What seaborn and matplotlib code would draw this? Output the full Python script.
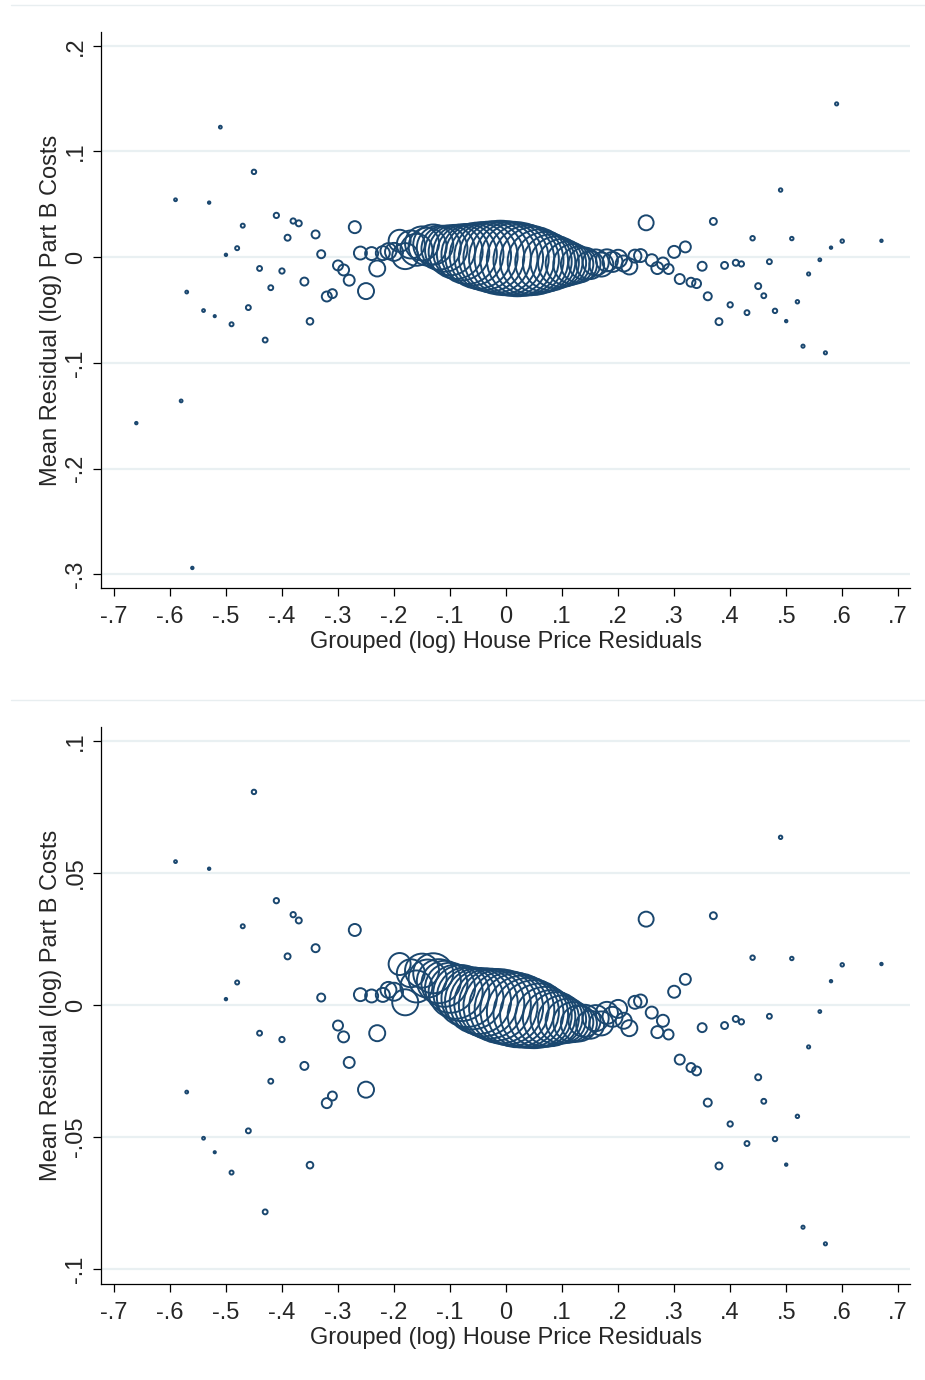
import numpy as np
import pandas as pd
import matplotlib
matplotlib.use("Agg")
import matplotlib.pyplot as plt
import seaborn as sns
from matplotlib.lines import Line2D

# grouped house price residual bins (x), mean Part B residual (y), obs per bin (n)
x_left = [-0.66, -0.59, -0.58, -0.57, -0.56, -0.54, -0.53, -0.52, -0.51, -0.50,
          -0.49, -0.48, -0.47, -0.46, -0.45, -0.44, -0.43, -0.42, -0.41, -0.40,
          -0.39, -0.38, -0.37, -0.36, -0.35, -0.34, -0.33, -0.32, -0.31, -0.30,
          -0.29, -0.28, -0.27, -0.26, -0.25, -0.24, -0.23]
y_left = [-0.157, 0.0543, -0.136, -0.033, -0.294, -0.0505, 0.0516, -0.0558, 0.123, 0.0022,
          -0.0635, 0.0085, 0.0298, -0.0477, 0.0807, -0.0107, -0.0784, -0.0289, 0.0395, -0.0131,
          0.0184, 0.0342, 0.032, -0.0231, -0.0607, 0.0215, 0.0028, -0.0372, -0.0345, -0.0078,
          -0.0121, -0.0218, 0.0284, 0.0039, -0.0321, 0.0034, -0.0107]
n_left = [1.5, 2, 2, 2, 1.5, 2, 1.5, 1.2, 2, 1.5,
          4, 4, 4, 6, 5, 6, 6, 6, 7, 7,
          9, 7, 9, 16, 11, 16, 16, 25, 20, 25,
          30, 30, 36, 42, 64, 42, 64]

x_mid = [-0.22, -0.21, -0.20, -0.19, -0.18, -0.17, -0.16, -0.15, -0.14, -0.13,
         -0.12, -0.11, -0.10, -0.09, -0.08, -0.07, -0.06, -0.05, -0.04, -0.03,
         -0.02, -0.01, 0.00, 0.01, 0.02, 0.03, 0.04, 0.05, 0.06, 0.07,
         0.08, 0.09, 0.10, 0.11, 0.12, 0.13, 0.14, 0.15, 0.16, 0.17,
         0.18, 0.19, 0.20, 0.21]
y_mid = [0.0038, 0.0057, 0.0050, 0.0155, 0.0010, 0.0120, 0.0070, 0.0130, 0.0100, 0.0120,
         0.0090, 0.0080, 0.0065, 0.0050, 0.0045, 0.0030, 0.0025, 0.0015, 0.0010, 0.0005,
         0.0000, -0.0005, -0.0010, -0.0015, -0.0020, -0.0025, -0.0030, -0.0035, -0.0040, -0.0045,
         -0.0050, -0.0050, -0.0055, -0.0060, -0.0065, -0.0070, -0.0060, -0.0075, -0.0050, -0.0070,
         -0.0030, -0.0045, -0.0015, -0.0060]
n_mid = [49, 64, 81, 121, 169, 196, 256, 289, 361, 400,
         484, 529, 625, 729, 784, 900, 961, 1089, 1156, 1225,
         1296, 1369, 1369, 1369, 1369, 1296, 1225, 1156, 1024, 900,
         784, 676, 576, 484, 400, 324, 256, 196, 169, 144,
         121, 100, 81, 64]

x_right = [0.22, 0.23, 0.24, 0.25, 0.26, 0.27, 0.28, 0.29, 0.30, 0.31,
           0.32, 0.33, 0.34, 0.35, 0.36, 0.37, 0.38, 0.39, 0.40, 0.41,
           0.42, 0.43, 0.44, 0.45, 0.46, 0.47, 0.48, 0.49, 0.50, 0.51,
           0.52, 0.53, 0.54, 0.56, 0.57, 0.58, 0.59, 0.60, 0.67]
y_right = [-0.0088, 0.0010, 0.0015, 0.0325, -0.0029, -0.0103, -0.0060, -0.0112, 0.0050, -0.0207,
           0.0097, -0.0237, -0.0250, -0.0086, -0.0370, 0.0338, -0.0610, -0.0078, -0.0451, -0.0053,
           -0.0064, -0.0525, 0.0179, -0.0274, -0.0365, -0.0043, -0.0508, 0.0635, -0.0605, 0.0176,
           -0.0422, -0.0842, -0.0159, -0.0025, -0.0905, 0.0090, 0.145, 0.0152, 0.0155]
n_right = [64, 42, 42, 56, 36, 36, 36, 25, 36, 25,
           30, 20, 20, 20, 16, 12, 12, 12, 7, 9,
           7, 6, 5, 9, 6, 6, 5, 3, 1.5, 3,
           3, 2.5, 2.5, 2, 2.5, 1.5, 2.5, 3, 1.5]

navy = "#1a476f"
grid_col = "#e9f0f2"

df = pd.DataFrame({
    "x": x_left + x_mid + x_right,
    "y": y_left + y_mid + y_right,
    "n": n_left + n_mid + n_right,
})

sns.set_style("white")
plt.rcParams["font.family"] = ["Liberation Sans", "DejaVu Sans"]
fs = 17

fig = plt.figure(figsize=(9.25, 13.8), dpi=100)
ax1 = fig.add_axes([0.1092, 0.5739, 0.8746, 0.4029])
ax2 = fig.add_axes([0.1092, 0.0696, 0.8746, 0.4036])

nmax = df["n"].max()
smax = nmax * (2 * 0.72) ** 2


def draw(ax, data, ylim, yticks, ylabels):
    sns.scatterplot(data=data, x="x", y="y", size="n", sizes=(0, smax),
                    size_norm=(0, nmax), legend=False, ax=ax, color=navy,
                    linewidth=1.4, zorder=3)
    for coll in ax.collections:
        coll.set_facecolor("none")
        coll.set_edgecolor(navy)
    ax.set_xlim(-0.723, 0.721)
    ax.set_ylim(*ylim)
    ax.set_yticks(yticks)
    ax.set_yticklabels(ylabels, rotation=90, va="center", fontsize=fs)
    xt = np.round(np.arange(-0.7, 0.71, 0.1), 1)
    ax.set_xticks(xt)
    ax.set_xticklabels([("-" if v < 0 else "") + ("%.1f" % abs(v)).lstrip("0") if v != 0 else "0"
                        for v in xt], fontsize=fs)
    ax.grid(axis="y", color=grid_col, linewidth=1.6, zorder=0)
    ax.grid(axis="x", visible=False)
    for s in ["top", "right"]:
        ax.spines[s].set_visible(False)
    for s in ["left", "bottom"]:
        ax.spines[s].set_color("black")
        ax.spines[s].set_linewidth(0.9)
    ax.tick_params(axis="both", direction="out", length=6, width=0.9,
                   color="black", left=True, bottom=True)
    ax.tick_params(axis="x", pad=7)
    ax.tick_params(axis="y", pad=4)
    ax.set_xlabel("Grouped (log) House Price Residuals", fontsize=fs, labelpad=2)
    ax.set_ylabel("Mean Residual (log) Part B Costs", fontsize=fs, labelpad=2)


draw(ax1, df, (-0.313, 0.213), [-0.3, -0.2, -0.1, 0, 0.1, 0.2],
     ["-.3", "-.2", "-.1", "0", ".1", ".2"])
draw(ax2, df[df["y"].abs() <= 0.1], (-0.1057, 0.1053), [-0.1, -0.05, 0, 0.05, 0.1],
     ["-.1", "-.05", "0", ".05", ".1"])

# faint borders of the two stacked graph images
for yy in [1 - 5 / 1380, 1 - 700 / 1380]:
    fig.add_artist(Line2D([0.012, 1.0], [yy, yy], color="#e8eef0", linewidth=1.0))

fig.savefig("out.png", dpi=100)
